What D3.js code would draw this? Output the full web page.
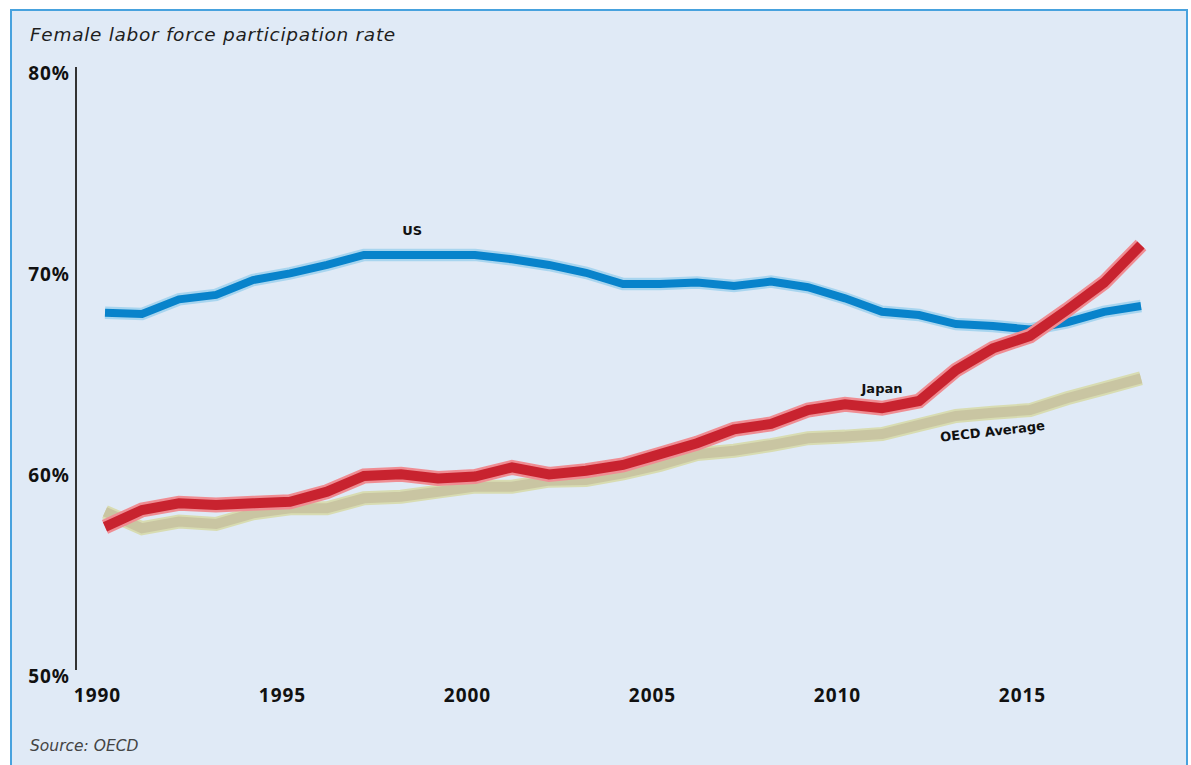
<!DOCTYPE html>
<html>
<head>
<meta charset="utf-8">
<script src="https://cdn.jsdelivr.net/npm/d3@7"></script>
<style>
  html, body { margin: 0; padding: 0; background: #ffffff; }
  svg { display: block; }
</style>
</head>
<body>
<svg id="chart" width="1191" height="765"></svg>
<script>
// Female labor force participation rate, women aged 15-64 (%)
const years = d3.range(1990, 2019);

const usValues = [
  68.07, 68.01, 68.74, 68.96, 69.70, 70.03, 70.45, 70.95, 70.95, 70.95,
  70.95, 70.73, 70.45, 70.06, 69.50, 69.50, 69.58, 69.40, 69.62, 69.34,
  68.79, 68.12, 67.96, 67.51, 67.41, 67.24, 67.59, 68.12, 68.41
];
const japanValues = [
  57.42, 58.26, 58.59, 58.51, 58.59, 58.67, 59.17, 59.95, 60.04, 59.83,
  59.92, 60.38, 60.03, 60.21, 60.50, 61.04, 61.58, 62.27, 62.54, 63.23,
  63.52, 63.32, 63.68, 65.22, 66.30, 66.92, 68.21, 69.57, 71.44
];
const oecdValues = [
  58.17, 57.35, 57.68, 57.56, 58.09, 58.34, 58.34, 58.84, 58.92, 59.17,
  59.42, 59.42, 59.72, 59.75, 60.08, 60.50, 61.04, 61.21, 61.49, 61.83,
  61.91, 62.04, 62.49, 62.94, 63.10, 63.23, 63.82, 64.31, 64.81
];

const yTicks = [50, 60, 70, 80];
const xTicks = [1990, 1995, 2000, 2005, 2010, 2015];

const titleText = "Female labor force participation rate";
const sourceText = "Source: OECD";

const series = [
  { name: "OECD Average", values: oecdValues, core: "#c9c5a2", halo: "#d8dcb2", coreW: 10, haloW: 14 },
  { name: "US", values: usValues, core: "#0883cb", halo: "#a8d5ef", coreW: 8, haloW: 12.5 },
  { name: "Japan", values: japanValues, core: "#c8232f", halo: "#ef8d93", coreW: 10, haloW: 15 }
];

const svg = d3.select("#chart");

// panel background and frame
svg.append("rect")
  .attr("x", 11).attr("y", 10)
  .attr("width", 1176).attr("height", 770)
  .attr("fill", "#e0eaf6")
  .attr("stroke", "#48a2de")
  .attr("stroke-width", 2);

const x = d3.scaleLinear().domain([1990, 2018]).range([105, 1141]);
const y = d3.scaleLinear().domain([50, 80]).range([676, 73]);

const tickFont = "'Noto Sans', 'DejaVu Sans', sans-serif";
const textFont = "'DejaVu Sans', 'Noto Sans', sans-serif";

// title
svg.append("text")
  .attr("x", 30).attr("y", 41)
  .attr("font-family", textFont)
  .attr("font-style", "italic")
  .attr("font-size", 18.5)
  .attr("letter-spacing", 0.7)
  .attr("fill", "#1e1e1e")
  .text(titleText);

// y axis
const yAxis = d3.axisLeft(y).tickValues(yTicks).tickSize(0).tickPadding(0)
  .tickFormat(d => d + "%");
const yG = svg.append("g").attr("transform", "translate(76,0)").call(yAxis);
yG.select(".domain").remove();
yG.selectAll("text")
  .attr("x", -6)
  .attr("font-family", tickFont)
  .attr("font-weight", "bold")
  .attr("font-size", 19)
  .attr("letter-spacing", 1)
  .attr("fill", "#111");
svg.append("line")
  .attr("x1", 76).attr("x2", 76)
  .attr("y1", y(80) - 6).attr("y2", y(50) - 6)
  .attr("stroke", "#333")
  .attr("stroke-width", 2);

// x axis (labels only)
const xAxis = d3.axisBottom(x).tickValues(xTicks).tickSize(0).tickPadding(0)
  .tickFormat(d3.format("d"));
const xG = svg.append("g").attr("transform", "translate(0,688)").call(xAxis);
xG.select(".domain").remove();
xG.selectAll("text")
  .attr("dx", -8)
  .attr("dy", "0.71em")
  .attr("font-family", tickFont)
  .attr("font-weight", "bold")
  .attr("font-size", 19)
  .attr("letter-spacing", 1)
  .attr("fill", "#111");

// lines: lighter halo underneath, solid core on top
const line = d3.line()
  .x((d, i) => x(years[i]))
  .y(d => y(d));

const lineG = svg.append("g");
series.forEach(s => {
  lineG.append("path")
    .attr("d", line(s.values))
    .attr("fill", "none")
    .attr("stroke", s.halo)
    .attr("stroke-width", s.haloW)
    .attr("stroke-linejoin", "miter")
    .attr("stroke-linecap", "butt");
  lineG.append("path")
    .attr("d", line(s.values))
    .attr("fill", "none")
    .attr("stroke", s.core)
    .attr("stroke-width", s.coreW)
    .attr("stroke-linejoin", "miter")
    .attr("stroke-linecap", "butt");
});

// series labels
const seriesLabel = (txt, cx, cy, rot) => {
  svg.append("text")
    .attr("transform", `translate(${cx},${cy}) rotate(${rot})`)
    .attr("text-anchor", "middle")
    .attr("font-family", textFont)
    .attr("font-weight", "bold")
    .attr("font-size", 13)
    .attr("fill", "#111")
    .text(txt);
};
seriesLabel("US", x(1998.3), y(71.95), 0);
seriesLabel("Japan", x(2011.0), y(64.1), 0);
seriesLabel("OECD Average", x(2014.0), y(61.95), -6.5);

// source note
svg.append("text")
  .attr("x", 30).attr("y", 751)
  .attr("font-family", textFont)
  .attr("font-style", "italic")
  .attr("font-size", 15.5)
  .attr("fill", "#444")
  .text(sourceText);
</script>
</body>
</html>
